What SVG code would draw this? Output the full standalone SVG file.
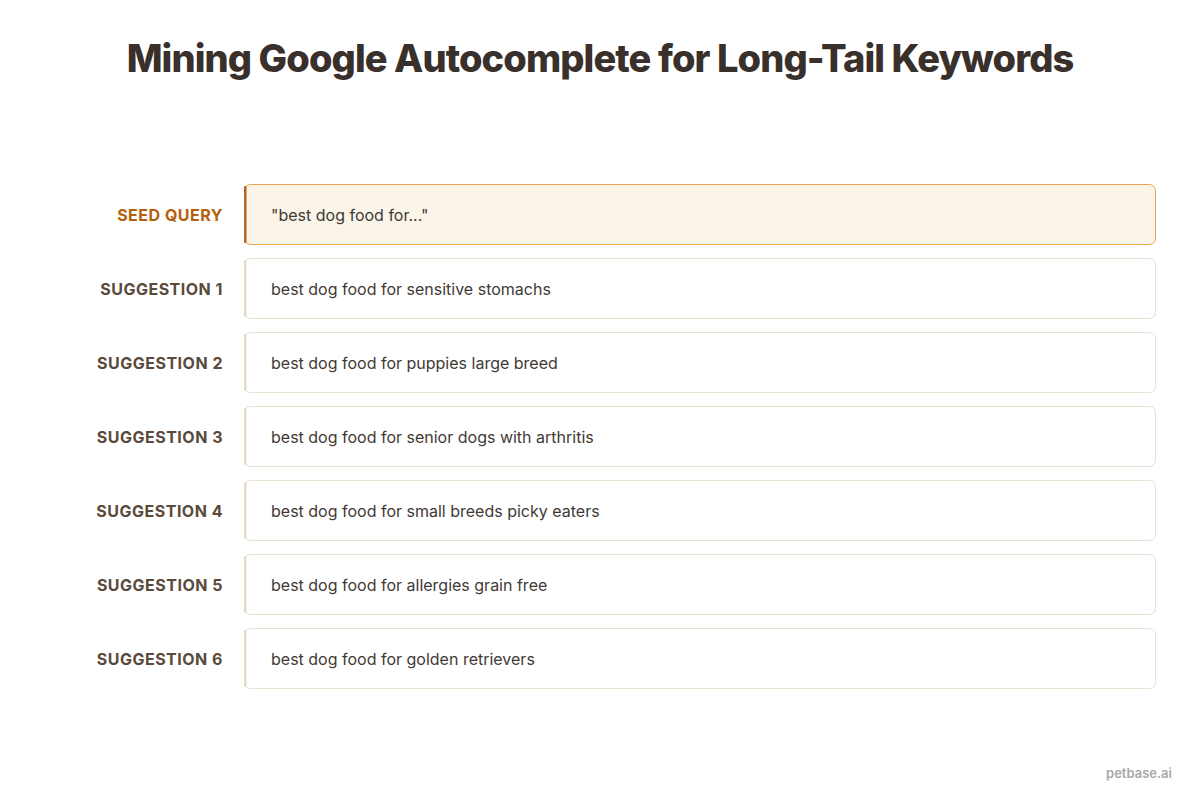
<svg xmlns="http://www.w3.org/2000/svg" width="1200" height="800" viewBox="0 0 1200 800">
<style>
.title{font-family:Inter,"Liberation Sans",sans-serif;font-weight:800;font-size:38px;fill:#3a302b;letter-spacing:-0.9px}
.lbl{font-family:Inter,"Liberation Sans",sans-serif;font-weight:700;font-size:16px;fill:#5a4a3c;letter-spacing:0.5px}
.lbl.seed{fill:#b5600e}
.txt{font-family:Inter,"Liberation Sans",sans-serif;font-size:16px;fill:#3f3a36}
.box{fill:#ffffff;stroke:#e8e1d2;stroke-width:1}
.bar{fill:#e6dcc6}
.box.seed{fill:#faf4e9;stroke:#e8a552}
.bar.seed{fill:#b5651d}
.foot{font-family:Inter,"Liberation Sans",sans-serif;font-weight:600;font-size:13px;fill:#a8a8a8}
</style>
<rect width="1200" height="800" fill="#ffffff"/>
<text class="title" x="600" y="72" text-anchor="middle">Mining Google Autocomplete for Long-Tail Keywords</text>
<g id="seed">
<rect class="box seed" x="244.5" y="184.5" width="911" height="60" rx="6"/>
<rect class="bar seed" x="244" y="186" width="2.5" height="57" rx="1"/>
<text class="lbl seed" x="223" y="221" text-anchor="end">SEED QUERY</text>
<text class="txt" x="271" y="221">"best dog food for..."</text>
</g>
<g id="s1">
<rect class="box" x="244.5" y="258.5" width="911" height="60" rx="6"/>
<rect class="bar" x="244" y="260" width="2.5" height="57" rx="1"/>
<text class="lbl" x="223" y="295" text-anchor="end">SUGGESTION 1</text>
<text class="txt" x="271" y="295">best dog food for sensitive stomachs</text>
</g>
<g id="s2">
<rect class="box" x="244.5" y="332.5" width="911" height="60" rx="6"/>
<rect class="bar" x="244" y="334" width="2.5" height="57" rx="1"/>
<text class="lbl" x="223" y="369" text-anchor="end">SUGGESTION 2</text>
<text class="txt" x="271" y="369">best dog food for puppies large breed</text>
</g>
<g id="s3">
<rect class="box" x="244.5" y="406.5" width="911" height="60" rx="6"/>
<rect class="bar" x="244" y="408" width="2.5" height="57" rx="1"/>
<text class="lbl" x="223" y="443" text-anchor="end">SUGGESTION 3</text>
<text class="txt" x="271" y="443">best dog food for senior dogs with arthritis</text>
</g>
<g id="s4">
<rect class="box" x="244.5" y="480.5" width="911" height="60" rx="6"/>
<rect class="bar" x="244" y="482" width="2.5" height="57" rx="1"/>
<text class="lbl" x="223" y="517" text-anchor="end">SUGGESTION 4</text>
<text class="txt" x="271" y="517">best dog food for small breeds picky eaters</text>
</g>
<g id="s5">
<rect class="box" x="244.5" y="554.5" width="911" height="60" rx="6"/>
<rect class="bar" x="244" y="556" width="2.5" height="57" rx="1"/>
<text class="lbl" x="223" y="591" text-anchor="end">SUGGESTION 5</text>
<text class="txt" x="271" y="591">best dog food for allergies grain free</text>
</g>
<g id="s6">
<rect class="box" x="244.5" y="628.5" width="911" height="60" rx="6"/>
<rect class="bar" x="244" y="630" width="2.5" height="57" rx="1"/>
<text class="lbl" x="223" y="665" text-anchor="end">SUGGESTION 6</text>
<text class="txt" x="271" y="665">best dog food for golden retrievers</text>
</g>
<g id="connectors"/>
<text class="foot" x="1172" y="778" text-anchor="end">petbase.ai</text>
</svg>
